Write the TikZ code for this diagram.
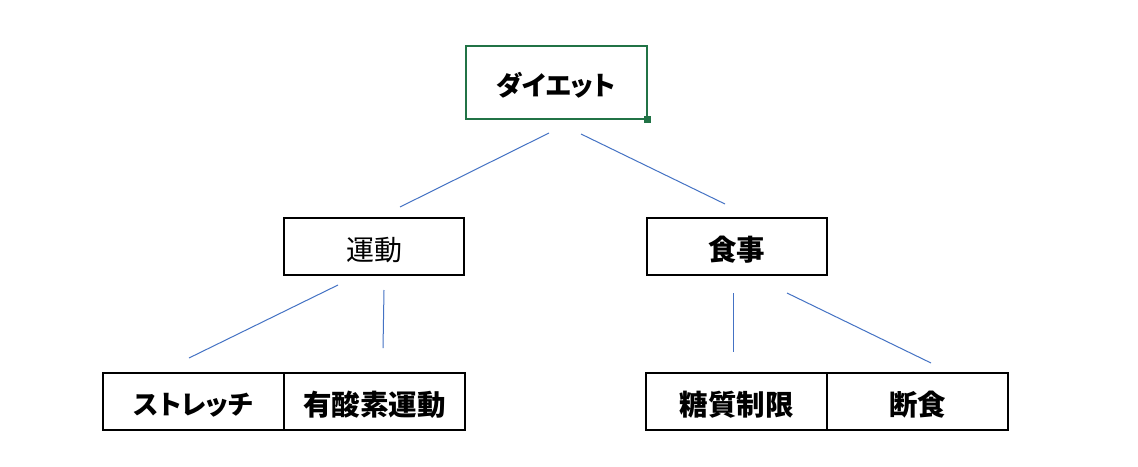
\documentclass[tikz,border=0pt]{standalone}
\usepackage{fontspec}
\newfontfamily\jp[RawFeature=+palt]{Noto Sans CJK JP}
\definecolor{xlgreen}{RGB}{33,115,70}
\definecolor{linkblue}{RGB}{68,114,196}
\tikzset{
  cell/.style={draw=black, line width=2pt, rectangle, inner sep=0pt,
    minimum width=180pt, minimum height=57pt, text height=27.4pt, text depth=0pt,
    font=\jp\fontsize{28.5}{28.5}\selectfont\bfseries},
  kata/.style={font=\jp\fontsize{26.5}{26.5}\selectfont\bfseries, text height=26.4pt},
  topcell/.style={cell, kata, draw=xlgreen, minimum width=181pt, minimum height=73pt},
  plain/.style={font=\jp\fontsize{28}{28}\selectfont},
  link/.style={draw=linkblue, line width=1pt}
}
\begin{document}
\begin{tikzpicture}[x=1pt,y=-1pt]
\path[use as bounding box, fill=white] (0,0) rectangle (1138,466);
% boxes
\node[topcell] (diet) at (556,82) {ダイエット};
\fill[xlgreen] (643.5,115.5) rectangle (650.5,122.5);
\node[cell, plain] (undo) at (374,246.5) {運動};
\node[cell] (shokuji) at (736.5,246.5) {食事};
\node[cell, kata, minimum width=181pt] (stretch) at (193.5,401.5) {ストレッチ};
\node[cell, minimum width=181pt] (aerobic) at (374.5,401.5) {有酸素運動};
\node[cell, minimum width=181pt] (toshitsu) at (736.5,401.5) {糖質制限};
\node[cell, minimum width=181pt] (danjiki) at (917.5,401.5) {断食};
% connector end points
\coordinate (d1) at (549,133);
\coordinate (u0) at (400,207);
\coordinate (d2) at (581,134);
\coordinate (s0) at (725,204);
\coordinate (u1) at (338,285);
\coordinate (st0) at (189,358);
\coordinate (u2) at (384,290);
\coordinate (ae0) at (383,348);
\coordinate (s1) at (733,293);
\coordinate (to0) at (733,352);
\coordinate (s2) at (787,293);
\coordinate (da0) at (931,363);
% connectors
\draw[link] (d1) -- (u0);
\draw[link] (d2) -- (s0);
\draw[link] (u1) -- (st0);
\draw[link] (u2) -- (ae0);
\draw[link] (s1) -- (to0);
\draw[link] (s2) -- (da0);
\end{tikzpicture}
\end{document}
